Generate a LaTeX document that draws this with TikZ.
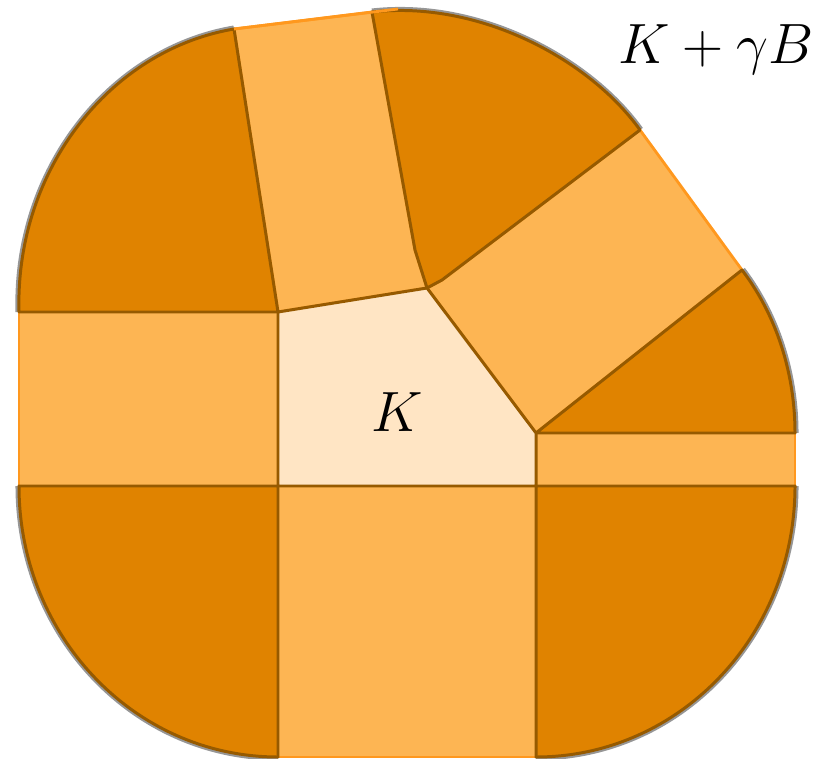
\documentclass[tikz,border=0pt]{standalone}
\definecolor{dunkel}{RGB}{224,131,0}
\definecolor{hell}{RGB}{253,181,83}
\definecolor{blass}{RGB}{255,229,196}
\definecolor{kante}{RGB}{150,90,0}
\definecolor{randgrau}{RGB}{150,150,150}
\definecolor{randorange}{RGB}{255,152,30}

\begin{document}
\begin{tikzpicture}[
  x = 0.02cm, y = -0.02cm,
  line join = round,
  streifen/.style = {fill=hell, draw=randorange, line width=1.6pt},
  sektor/.style = {fill=dunkel, draw=kante, line width=1.7pt},
  kern/.style = {fill=blass, draw=kante, line width=1.7pt},
  rand/.style = {draw=randgrau, line width=4pt},
  every node/.style = {font=\fontsize{24.88}{30}\selectfont, scale=1.3, inner sep=0pt}
]
  \useasboundingbox (0,0) rectangle (820,759);

  % Ecken von K
  \coordinate (A) at (278,312);
  \coordinate (B) at (427,288);
  \coordinate (C) at (536,433);
  \coordinate (D) at (536,486);
  \coordinate (E) at (278,486);

  % Streifen
  \path[streifen] (A) -- (234,29) -- (372,12) -- (415,250) -- (B) -- cycle;
  \path[streifen] (B) -- (442,280) -- (640,130) -- (742,270) -- (C) -- cycle;
  \path[streifen] (C) -- (795,433) -- (795,486) -- (D) -- cycle;
  \path[streifen] (D) -- (536,757) -- (278,757) -- (E) -- cycle;
  \path[streifen] (E) -- (19,486) -- (19,312) -- (A) -- cycle;

  % Rand der Kreisbogen
  \draw[rand] (19,312) .. controls (15,170) and (110,50) .. (234,29);
  \draw[rand] (372,12) .. controls (480,0) and (590,60) .. (640,130);
  \draw[rand] (742,270) .. controls (780,320) and (795,380) .. (795,433);
  \draw[rand] (795,486) .. controls (795,636) and (679,757) .. (536,757);
  \draw[rand] (278,757) .. controls (135,757) and (19,636) .. (19,486);

  % Sektoren
  \path[sektor] (A) -- (19,312) .. controls (15,170) and (110,50) .. (234,29) -- cycle;
  \path[sektor] (B) -- (415,250) -- (372,12) .. controls (480,0) and (590,60) .. (640,130)
    -- (442,280) -- cycle;
  \path[sektor] (C) -- (742,270) .. controls (780,320) and (795,380) .. (795,433) -- cycle;
  \path[sektor] (D) -- (795,486) .. controls (795,636) and (679,757) .. (536,757) -- cycle;
  \path[sektor] (E) -- (278,757) .. controls (135,757) and (19,636) .. (19,486) -- cycle;
  \draw[randorange, line width=1.6pt] (234,29) -- (398,9);

  % Kern
  \path[kern] (A) -- (B) -- (C) -- (D) -- (E) -- cycle;

  % Beschriftung
  \node[anchor=base] (k) at (397,431) {$K$};
  \node[anchor=base] (summe) at (716,64) {$K+\gamma B$};
\end{tikzpicture}
\end{document}
